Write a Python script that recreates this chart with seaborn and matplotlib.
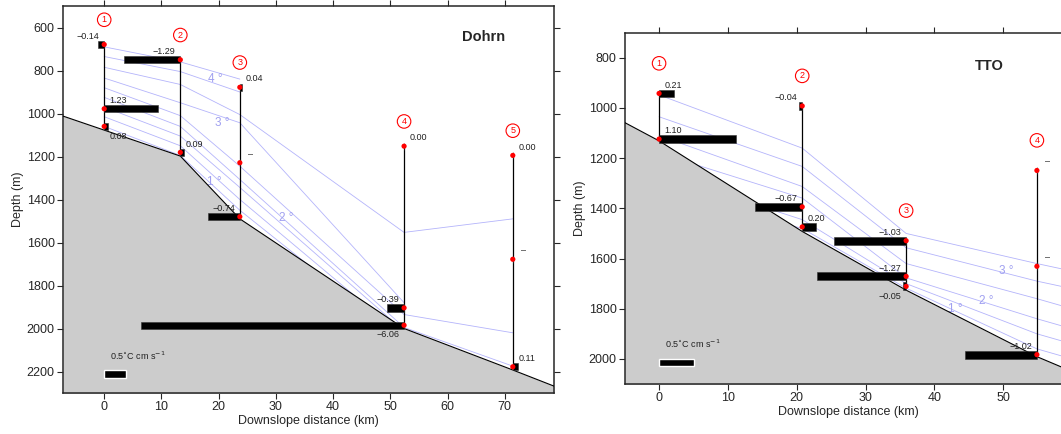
import numpy as np
import pandas as pd
import matplotlib
matplotlib.use("Agg")
import matplotlib.pyplot as plt
import seaborn as sns

# ---------------- Dohrn section ----------------
dohrn_station_km = [0.0, 13.3, 23.7, 52.4, 71.4]
dohrn_obs_station = [0, 0, 0, 1, 1, 2, 2, 2, 3, 3, 3, 4, 4, 4]
dohrn_obs_depth = [679, 978, 1060, 750, 1181, 878, 1229, 1480, 1152, 1904, 1985, 1195, 1678, 2178]
dohrn_obs_flux = [-0.14, 1.23, 0.08, -1.29, 0.09, 0.04, np.nan, -0.74, 0.00, -0.39, -6.06, 0.00, np.nan, 0.11]
dohrn_bathy_km = [-7.2, 13.3, 23.7, 52.4, 71.4, 78.6]
dohrn_bathy_depth = [1012, 1198, 1490, 2000, 2193, 2268]
dohrn_iso_km = [0.0, 13.3, 23.7, 52.4, 71.4]
dohrn_levels = [4.5, 4.0, 3.5, 3.0, 2.5, 2.0, 1.5, 1.0, 0.5]
dohrn_iso_depth = [
    [690, 760, 840, np.nan, np.nan],
    [735, 805, 900, np.nan, np.nan],
    [785, 865, 1005, 1553, 1490],
    [835, 950, 1043, 1880, np.nan],
    [880, 1010, 1245, 1935, 2020],
    [925, 1060, 1307, 1995, 2175],
    [970, 1105, 1344, 2012, np.nan],
    [1015, 1150, 1400, 2040, np.nan],
    [1060, 1195, 1450, 2060, np.nan],
]

# ---------------- TTO section ----------------
tto_station_km = [0.0, 20.8, 35.9, 54.9]
tto_obs_station = [0, 0, 1, 1, 1, 2, 2, 2, 3, 3, 3]
tto_obs_depth = [942, 1124, 992, 1394, 1474, 1529, 1671, 1711, 1249, 1631, 1983]
tto_obs_flux = [0.21, 1.10, -0.04, -0.67, 0.20, -1.03, -1.27, -0.05, np.nan, np.nan, -1.02]
tto_bathy_km = [-5.0, 0.0, 20.8, 35.9, 54.9, 60.0]
tto_bathy_depth = [1058, 1131, 1492, 1726, 1991, 2050]
tto_iso_km = [0.0, 20.8, 35.9, 54.9, 60.0]
tto_levels = [3.5, 3.0, 2.5, 2.0, 1.5, 1.0]
tto_iso_depth = [
    [948, 1160, 1500, 1620, 1650],
    [1035, 1233, 1557, 1690, 1720],
    [1110, 1313, 1620, 1760, 1800],
    [1180, 1359, 1677, 1840, 1880],
    [1260, 1445, 1700, 1900, 1940],
    [1330, 1480, 1718, 1960, 2000],
]

ISO_COLOR = "#b4b4fb"
ISO_TEXT = "#a0a0f0"
GROUND = "#cccccc"
MINUS = "\u2212"


def fmt(v):
    if np.isnan(v):
        return "\u2013"
    s = f"{abs(v):.2f}"
    return (MINUS + s) if v < 0 else s


def draw_section(ax, station_km, obs_station, obs_depth, obs_flux,
                 bathy_km, bathy_depth, iso_km, levels, iso_depth, xlim, ylim,
                 km_per_unit, bar_h, below, iso_labels, title, title_xy,
                 scale_y, circle_dy):
    # isotherms
    iso = np.array(iso_depth, dtype=float)
    df = pd.DataFrame({
        "km": np.tile(iso_km, len(levels)),
        "depth": iso.ravel(),
        "level": np.repeat(levels, len(iso_km)),
    }).dropna()
    sns.lineplot(data=df, x="km", y="depth", units="level", estimator=None,
                 sort=False, color=ISO_COLOR, lw=0.6, ax=ax, legend=False,
                 zorder=1)
    for lab, (lx, ly) in iso_labels.items():
        ax.text(lx, ly, f"{lab} \u00b0", color=ISO_TEXT, fontsize=8.5,
                ha="center", va="center", zorder=1.5)

    # seafloor
    ax.fill_between(bathy_km, bathy_depth, ylim[0] + 200, color=GROUND,
                    lw=0, zorder=2)
    ax.plot(bathy_km, bathy_depth, color="black", lw=0.8, zorder=3)

    obs_x = np.array([station_km[i] for i in obs_station])
    obs_d = np.array(obs_depth, dtype=float)
    flux = np.array(obs_flux, dtype=float)

    # mooring lines and station numbers
    for s in sorted(set(obs_station)):
        d = obs_d[np.array(obs_station) == s]
        ax.plot([station_km[s]] * 2, [d.min(), d.max()], color="black",
                lw=0.9, zorder=3.5)
        ax.text(station_km[s], d.min() - circle_dy, str(s + 1), color="red",
                fontsize=6.5, ha="center", va="center", zorder=6,
                bbox=dict(boxstyle="circle,pad=0.25", fc="none", ec="red",
                          lw=0.8))

    # heat-flux bars
    w = np.nan_to_num(flux) * km_per_unit
    ax.barh(obs_d, w, left=obs_x, height=bar_h, color="black",
            edgecolor="#333333", lw=0.4, zorder=4)

    sns.scatterplot(x=obs_x, y=obs_d, color="red", s=14, edgecolor="none",
                    ax=ax, zorder=5, legend=False)

    for i, (x, d, v) in enumerate(zip(obs_x, obs_d, flux)):
        dy = -7 if i in below else 6
        if np.isnan(v):
            dx, ha = 6, "left"
        elif v < 0:
            dx, ha = -3.5, "right"
        else:
            dx, ha = 4, "left"
        ax.annotate(fmt(v), (x, d), xytext=(dx, dy), textcoords="offset points",
                    ha=ha, va="center", fontsize=6.5, color="#222222",
                    zorder=6)

    # scale bar
    ax.barh([scale_y], [0.5 * km_per_unit], left=[0], height=bar_h,
            color="black", zorder=4)
    ax.annotate(r"0.5$^{\circ}$C cm s$^{-1}$", (0, scale_y), xytext=(4, 9),
                textcoords="offset points", ha="left", va="bottom",
                fontsize=6.5, color="#222222", zorder=6)

    ax.text(title_xy[0], title_xy[1], title, fontsize=10.5, fontweight="bold",
            ha="center", va="center", zorder=6)

    ax.set_xlim(*xlim)
    ax.set_ylim(*ylim)
    ax.set_xlabel("Downslope distance (km)", fontsize=9, labelpad=1)
    ax.set_ylabel("Depth (m)", fontsize=9, labelpad=2)
    ax.tick_params(top=True, right=True, labeltop=False, labelright=False,
                   direction="out", length=4, width=0.8, labelsize=9,
                   pad=2)
    for sp in ax.spines.values():
        sp.set_linewidth(1.1)
        sp.set_visible(True)


sns.set_theme(style="ticks")
plt.rcParams["font.family"] = ["Liberation Sans", "DejaVu Sans"]

fig = plt.figure(figsize=(10.61, 4.34), dpi=100)
ax1 = fig.add_axes([63 / 1061, 1 - 393 / 434, 491 / 1061, 387 / 434])
ax2 = fig.add_axes([625 / 1061, 1 - 384 / 434, 447 / 1061, 351.3 / 434])

draw_section(ax1, dohrn_station_km, dohrn_obs_station, dohrn_obs_depth,
             dohrn_obs_flux, dohrn_bathy_km, dohrn_bathy_depth, dohrn_iso_km,
             dohrn_levels, dohrn_iso_depth, (-7.2, 78.6), (2300, 500), 7.6, 34,
             {2, 10}, {4: (19.4, 840), 3: (20.6, 1045), 1: (19.2, 1320),
                       2: (31.8, 1488)},
             "Dohrn", (66.3, 645), 2212, 115)
ax1.set_xticks(np.arange(0, 71, 10))
ax1.set_yticks(np.arange(600, 2201, 200))

draw_section(ax2, tto_station_km, tto_obs_station, tto_obs_depth,
             tto_obs_flux, tto_bathy_km, tto_bathy_depth, tto_iso_km,
             tto_levels, tto_iso_depth, (-4.95, 60), (2100, 700), 10.2, 31,
             {7}, {1: (43.1, 1800), 2: (47.5, 1768), 3: (50.5, 1650)},
             "TTO", (48, 833), 2014, 120)
ax2.set_xticks(np.arange(0, 51, 10))
ax2.set_yticks(np.arange(800, 2001, 200))

fig.savefig("out.png", dpi=100)
